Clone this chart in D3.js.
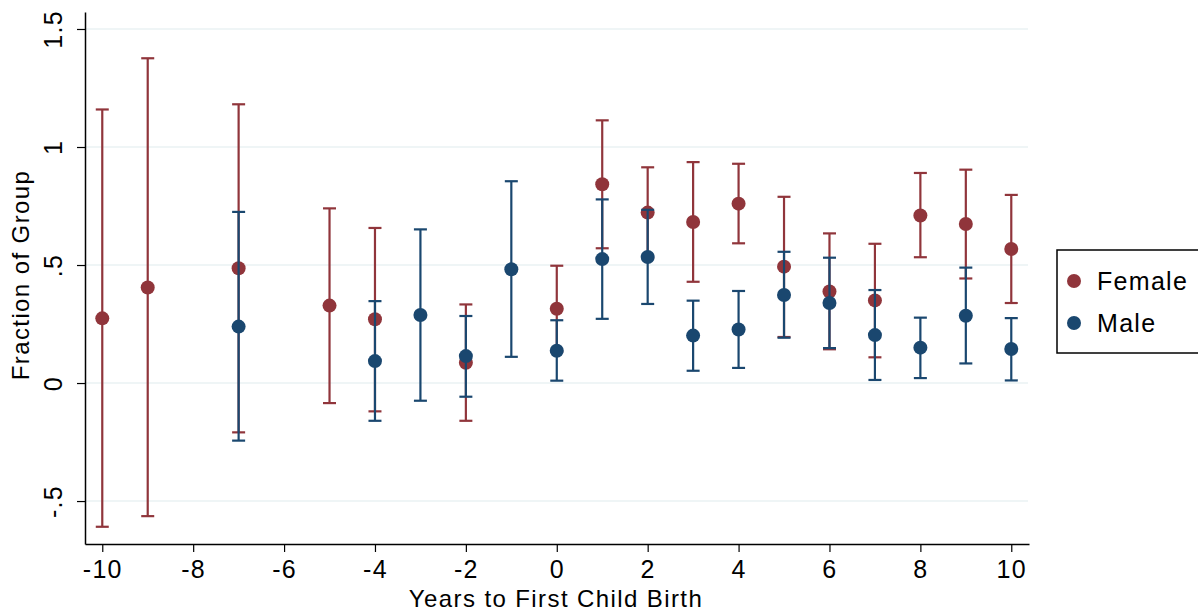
<!DOCTYPE html>
<html>
<head>
<meta charset="utf-8">
<script src="https://cdn.jsdelivr.net/npm/d3@7"></script>
<style>
body { margin:0; background:#fff; }
svg { display:block; font-family: "Liberation Sans", Arial, sans-serif; }
</style>
</head>
<body>
<svg id="chart" width="1198" height="614"></svg>
<script>
// years relative to first birth
var years = [-10,-9,-8,-7,-6,-5,-4,-3,-2,-1,0,1,2,3,4,5,6,7,8,9,10]
// female: point, lower, upper (null = no estimate)
var femPt = [0.274,0.405,null,0.486,null,0.328,0.270,null,0.086,null,0.315,0.842,0.722,0.682,0.760,0.493,0.388,0.350,0.710,0.674,0.568]
var femLo = [-0.609,-0.564,null,-0.209,null,-0.085,-0.120,null,-0.160,null,0.133,0.571,0.530,0.429,0.592,0.195,0.143,0.109,0.533,0.443,0.339]
var femHi = [1.159,1.376,null,1.181,null,0.740,0.657,null,0.333,null,0.497,1.113,0.914,0.936,0.929,0.789,0.634,0.590,0.890,0.904,0.797]
// male
var malPt = [null,null,null,0.239,null,null,0.093,0.288,0.114,0.482,0.137,0.525,0.534,0.201,0.227,0.373,0.339,0.203,0.150,0.285,0.144]
var malLo = [null,null,null,-0.244,null,null,-0.160,-0.075,-0.058,0.111,0.010,0.272,0.335,0.052,0.064,0.192,0.148,0.013,0.021,0.083,0.011]
var malHi = [null,null,null,0.725,null,null,0.347,0.651,0.284,0.855,0.266,0.778,0.734,0.349,0.390,0.556,0.531,0.394,0.277,0.489,0.275]
var xTicks = [-10,-8,-6,-4,-2,0,2,4,6,8,10]
var yTicks = [-0.5,0,0.5,1,1.5]
var yTickLabels = ["-.5","0",".5","1","1.5"]

var red = '#90353b', blue = '#1a476f'
var svg = d3.select('#chart')
var x = d3.scaleLinear().domain([-10.38,10.39]).range([85,1029])
var y = d3.scaleLinear().domain([-0.682,1.572]).range([544,12])

// gridlines
svg.append('g').selectAll('line').data(yTicks).join('line')
  .attr('x1',85).attr('x2',1028)
  .attr('y1',d=>y(d)).attr('y2',d=>y(d))
  .attr('stroke','#eaf2f3').attr('stroke-width',1.6)

// axes
var xa = svg.append('g').attr('transform','translate(0,544)')
  .call(d3.axisBottom(x).tickValues(xTicks).tickSize(8).tickSizeOuter(0).tickPadding(8).tickFormat(d=>d))
xa.select('.domain').attr('stroke','#000').attr('stroke-width',1.5)
xa.selectAll('.tick line').attr('stroke','#000').attr('stroke-width',1.2)
xa.selectAll('.tick text').attr('font-size',25).attr('fill','#000')
  .attr('font-family','Liberation Sans, Arial, sans-serif').attr('letter-spacing','1.3px')

var ya = svg.append('g').attr('transform','translate(85,0)')
  .call(d3.axisLeft(y).tickValues(yTicks).tickSize(8).tickSizeOuter(0).tickFormat((d,i)=>yTickLabels[i]))
ya.select('.domain').attr('stroke','#000').attr('stroke-width',1.5)
ya.selectAll('.tick line').attr('stroke','#000').attr('stroke-width',1.2)
ya.selectAll('.tick text').attr('font-size',25).attr('fill','#000')
  .attr('font-family','Liberation Sans, Arial, sans-serif').attr('letter-spacing','1.3px')
  .attr('text-anchor','middle')
  .attr('transform','translate(-32,0) rotate(-90)').attr('x',0).attr('y',0).attr('dy','0.35em')

// axis titles
svg.append('text').attr('x',556).attr('y',607).attr('text-anchor','middle')
  .attr('font-size',24).attr('letter-spacing','1.4px').text('Years to First Child Birth')
svg.append('text').attr('transform','translate(29,275) rotate(-90)').attr('text-anchor','middle')
  .attr('font-size',24).attr('letter-spacing','1.4px').text('Fraction of Group')

function series(pt, lo, hi, col){
  var data = years.map((yr,i)=>({yr:yr, p:pt[i], lo:lo[i], hi:hi[i]})).filter(d=>d.p!=null)
  var g = svg.append('g')
  g.selectAll('line.bar').data(data).join('line').attr('class','bar')
    .attr('x1',d=>x(d.yr)).attr('x2',d=>x(d.yr))
    .attr('y1',d=>y(d.lo)).attr('y2',d=>y(d.hi))
    .attr('stroke',col).attr('stroke-width',2.2)
  ;['lo','hi'].forEach(function(k){
    g.selectAll('line.cap'+k).data(data).join('line').attr('class','cap'+k)
      .attr('x1',d=>x(d.yr)-6.5).attr('x2',d=>x(d.yr)+6.5)
      .attr('y1',d=>y(d[k])).attr('y2',d=>y(d[k]))
      .attr('stroke',col).attr('stroke-width',2.2)
  })
  g.selectAll('circle').data(data).join('circle')
    .attr('cx',d=>x(d.yr)).attr('cy',d=>y(d.p)).attr('r',7).attr('fill',col)
}
series(femPt, femLo, femHi, red)
series(malPt, malLo, malHi, blue)

// legend
var lg = svg.append('g')
lg.append('rect').attr('x',1057).attr('y',250).attr('width',160).attr('height',103)
  .attr('fill','#fff').attr('stroke','#000').attr('stroke-width',1.5)
var legendItems = [{name:'Female', col:red},{name:'Male', col:blue}]
legendItems.forEach(function(d,i){
  lg.append('circle').attr('cx',1074).attr('cy',281+i*42).attr('r',7).attr('fill',d.col)
  lg.append('text').attr('x',1097).attr('y',281+i*42).attr('dy','0.35em')
    .attr('font-size',25).attr('letter-spacing','1.3px').text(d.name)
})
</script>
</body>
</html>
